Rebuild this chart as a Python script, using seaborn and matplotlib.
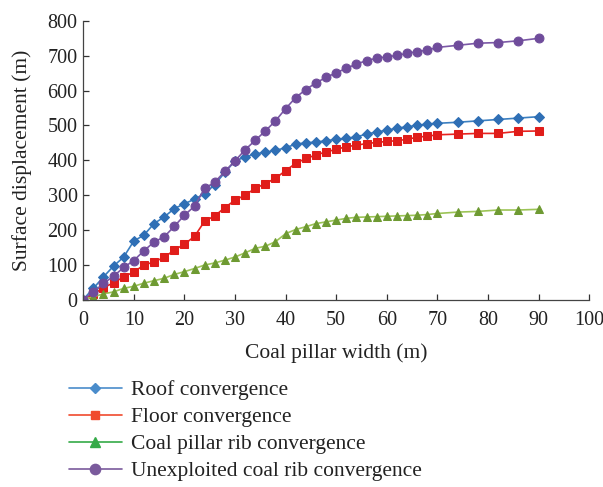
import numpy as np
import pandas as pd
import seaborn as sns
import matplotlib.pyplot as plt
from matplotlib.lines import Line2D

# Datos
width = list(range(0, 72, 2)) + [74, 78, 82, 86, 90]

roof = [0, 32, 65, 96, 122, 168, 185, 218, 237, 261, 275, 288, 304, 330, 365, 398,
        409, 418, 423, 428, 436, 446, 450, 452, 456, 460, 463, 467, 475, 481, 486,
        492, 496, 500, 504, 506, 509, 513, 517, 521, 525]
floor = [0, 15, 34, 48, 65, 79, 99, 108, 121, 142, 159, 181, 225, 240, 264, 285,
         300, 319, 333, 348, 370, 391, 405, 415, 424, 431, 439, 443, 448, 451, 454,
         456, 460, 466, 469, 473, 475, 477, 477, 483, 484]
pillar_rib = [0, 8, 16, 22, 32, 38, 47, 54, 61, 72, 80, 89, 99, 105, 113, 122,
              134, 147, 153, 166, 189, 201, 209, 218, 223, 228, 233, 236, 237, 238, 239,
              240, 241, 242, 244, 247, 251, 253, 257, 257, 259]
unexploited = [0, 22, 46, 67, 92, 112, 140, 165, 180, 210, 242, 268, 319, 337, 368, 398,
               430, 457, 484, 513, 548, 580, 603, 622, 638, 651, 664, 676, 686, 693, 697,
               701, 707, 712, 716, 724, 730, 736, 738, 743, 750]

series_names = ["Roof convergence", "Floor convergence",
                "Coal pillar rib convergence", "Unexploited coal rib convergence"]
series_values = [roof, floor, pillar_rib, unexploited]

line_colors = ["#3b7fc0", "#e8231f", "#9cc456", "#7b58a6"]
marker_colors = ["#2f6fb5", "#e01d1a", "#6e9a32", "#6f4c9b"]
legend_colors = ["#4a8ccb", "#f04a2e", "#35aa48", "#7a5a9c"]
markers = ["D", "s", "^", "o"]
marker_sizes = [4.6, 5.4, 6.0, 6.4]

df = pd.concat([pd.DataFrame({"width": width, "value": v, "series": n})
                for n, v in zip(series_names, series_values)])

sns.set_theme(style="ticks")
plt.rcParams["font.family"] = ["Liberation Serif", "DejaVu Serif"]

fig = plt.figure(figsize=(6.03, 4.87), dpi=100)
ax = fig.add_axes([0.138, 0.385, 0.839, 0.572])

for name, lc, mc, mk, ms in zip(series_names, line_colors, marker_colors, markers, marker_sizes):
    sns.lineplot(data=df[df["series"] == name], x="width", y="value", ax=ax,
                 color=lc, linewidth=1.2, marker=mk, markersize=ms,
                 markerfacecolor=mc, markeredgecolor=mc, legend=False)

ax.set_xlim(0, 100)
ax.set_ylim(0, 800)
ax.set_xticks(np.arange(0, 101, 10))
ax.set_yticks(np.arange(0, 801, 100))
ax.tick_params(direction="in", length=4, width=0.9, colors="#333333",
               labelsize=14.5, labelcolor="#222222", pad=4)
ax.tick_params(axis="x", pad=8)
for s in ["top", "right"]:
    ax.spines[s].set_visible(False)
for s in ["left", "bottom"]:
    ax.spines[s].set_color("#444444")
    ax.spines[s].set_linewidth(0.9)

ax.set_xlabel("Coal pillar width (m)", fontsize=15.5, color="#222222", labelpad=10)
ax.set_ylabel("Surface displacement (m)", fontsize=15.5, color="#222222", labelpad=11)

handles = [Line2D([0], [0], color=c, linewidth=1.2, marker=m, markersize=s + 1,
                  markerfacecolor=c, markeredgecolor=c)
           for c, m, s in zip(legend_colors, markers, marker_sizes)]
fig.legend(handles, series_names, loc="upper left", bbox_to_anchor=(0.1, 0.237),
           frameon=False, fontsize=15.5, handlelength=2.45, labelspacing=0.32,
           handletextpad=0.45, labelcolor="#222222", borderaxespad=0)

plt.savefig("out.png", dpi=100)
